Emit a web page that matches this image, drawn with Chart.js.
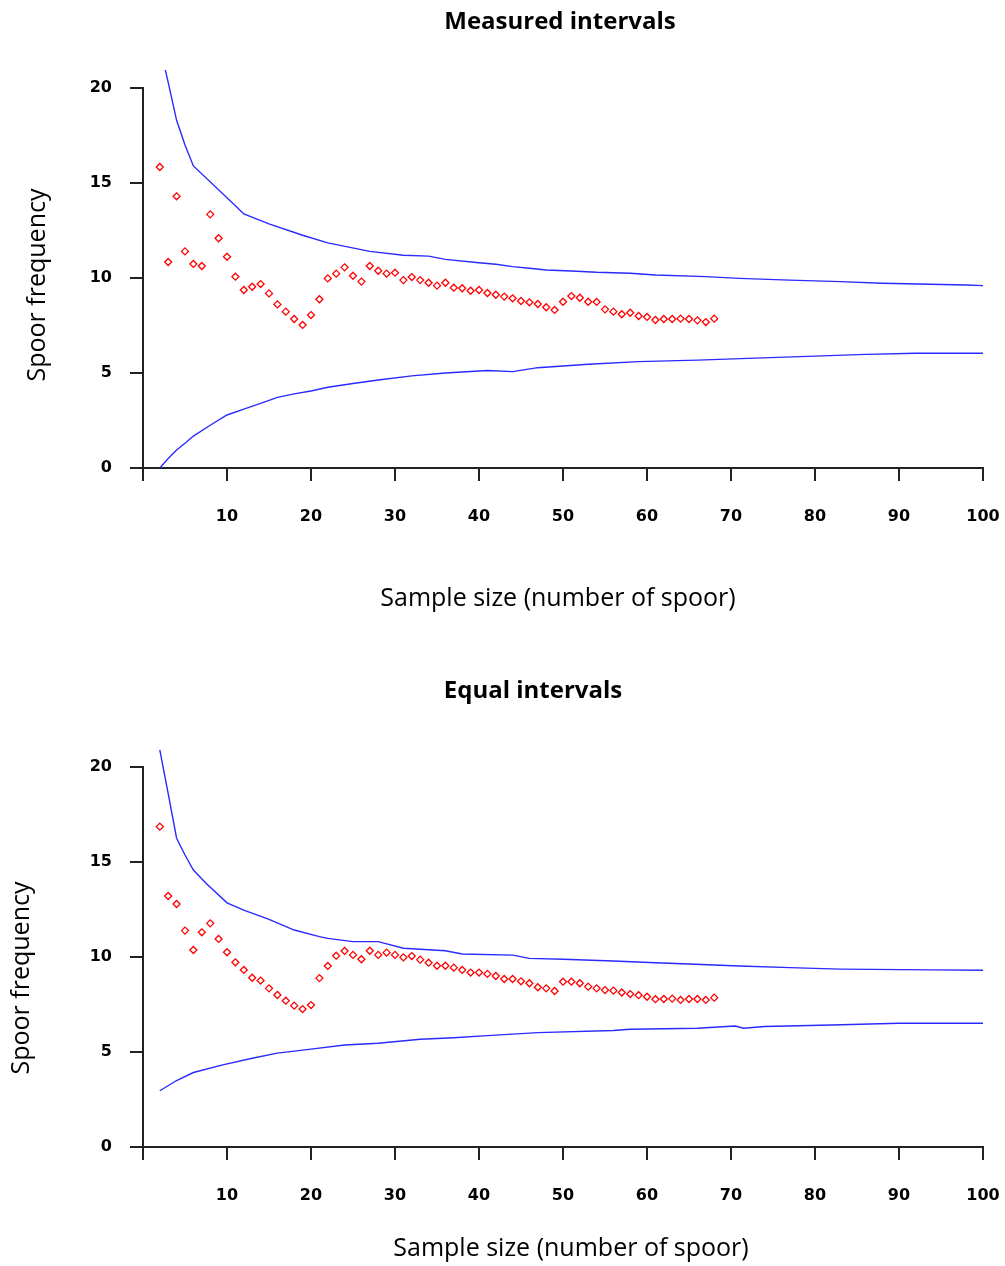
<!DOCTYPE html>
<html>
<head>
<meta charset="utf-8">
<title>Spoor frequency</title>
<script src="https://cdn.jsdelivr.net/npm/chart.js@4.4.1/dist/chart.umd.min.js"></script>
<style>
  body { margin: 0; background: #fff; }
  canvas { position: absolute; left: 0; }
  #measuredChart { top: 0; }
  #equalChart { top: 650px; }
</style>
</head>
<body>
<canvas id="measuredChart" width="1005" height="625"></canvas>
<canvas id="equalChart" width="1005" height="616"></canvas>
<script>
// ----------------- Data -----------------
const sampleSizes = [2, 3, 4, 5, 6, 7, 8, 9, 10, 11, 12, 13, 14, 15, 16, 17, 18, 19, 20, 21,
    22, 23, 24, 25, 26, 27, 28, 29, 30, 31, 32, 33, 34, 35, 36, 37, 38, 39, 40, 41,
    42, 43, 44, 45, 46, 47, 48, 49, 50, 51, 52, 53, 54, 55, 56, 57, 58, 59, 60, 61,
    62, 63, 64, 65, 66, 67, 68];

const measuredFreq = [15.84, 10.84, 14.3, 11.4, 10.74, 10.63, 13.35, 12.09, 11.12, 10.07,
    9.37, 9.54, 9.68, 9.19, 8.61, 8.23, 7.84, 7.53, 8.05, 8.88,
    9.98, 10.23, 10.56, 10.12, 9.81, 10.63, 10.38, 10.23, 10.28, 9.89,
    10.05, 9.89, 9.75, 9.6, 9.75, 9.49, 9.46, 9.33, 9.37, 9.21,
    9.12, 9.02, 8.93, 8.79, 8.72, 8.63, 8.46, 8.32, 8.75, 9.05,
    8.96, 8.75, 8.74, 8.35, 8.23, 8.09, 8.17, 8.0, 7.95, 7.79,
    7.84, 7.84, 7.86, 7.84, 7.77, 7.68, 7.86];

const equalFreq = [16.86, 13.21, 12.79, 11.39, 10.37, 11.3, 11.77, 10.95, 10.25, 9.72,
    9.32, 8.91, 8.76, 8.35, 8.0, 7.7, 7.44, 7.26, 7.47, 8.89,
    9.53, 10.07, 10.32, 10.11, 9.88, 10.33, 10.11, 10.23, 10.11, 9.98,
    10.05, 9.86, 9.7, 9.54, 9.54, 9.44, 9.32, 9.18, 9.18, 9.11,
    9.0, 8.84, 8.84, 8.72, 8.62, 8.41, 8.35, 8.21, 8.7, 8.7,
    8.62, 8.44, 8.35, 8.26, 8.23, 8.13, 8.05, 7.99, 7.91, 7.78,
    7.79, 7.81, 7.74, 7.79, 7.79, 7.74, 7.86];

// confidence envelope, measured intervals
const measUpperX = [2, 3, 4, 5, 6, 11, 12, 15, 19, 22, 27, 31, 34, 36, 40, 42, 44, 46, 48, 51, 54, 58, 61, 67, 71, 77, 83, 88, 98, 100];
const measUpperY = [22.2, 20.3, 18.3, 17.0, 15.9, 13.8, 13.37, 12.85, 12.25, 11.85, 11.4, 11.2, 11.15, 10.98, 10.8, 10.72, 10.6, 10.51, 10.42, 10.37, 10.3, 10.25, 10.16, 10.07, 9.98, 9.89, 9.81, 9.72, 9.63, 9.6];
const measLowerX = [2, 3, 4, 5, 6, 8, 10, 12, 14, 16, 18, 20, 22, 25, 28, 32, 36, 41, 44, 47, 53, 59, 66, 72, 80, 86, 92, 100];
const measLowerY = [0, 0.5, 0.95, 1.3, 1.68, 2.25, 2.79, 3.1, 3.4, 3.72, 3.9, 4.05, 4.25, 4.45, 4.63, 4.85, 5.0, 5.13, 5.07, 5.28, 5.46, 5.6, 5.68, 5.77, 5.89, 5.98, 6.04, 6.04];

// confidence envelope, equal intervals
const equalUpperX = [2, 3, 4, 5, 6, 7.5, 10, 12, 15, 18, 21, 22, 25, 28, 31, 36, 38, 44, 46, 50, 56, 61, 65, 71, 77, 83, 94, 100];
const equalUpperY = [20.9, 18.6, 16.25, 15.37, 14.58, 13.88, 12.85, 12.47, 11.98, 11.42, 11.07, 10.98, 10.81, 10.81, 10.46, 10.33, 10.16, 10.1, 9.93, 9.88, 9.79, 9.7, 9.63, 9.53, 9.44, 9.36, 9.32, 9.3];
const equalLowerX = [2, 4, 6, 9.5, 13, 16, 20, 24, 28, 33, 37, 41, 47, 56, 58, 66, 70.5, 71.5, 74, 82, 90, 100];
const equalLowerY = [2.96, 3.5, 3.92, 4.32, 4.67, 4.94, 5.15, 5.37, 5.46, 5.67, 5.75, 5.86, 6.02, 6.13, 6.2, 6.25, 6.37, 6.25, 6.34, 6.42, 6.51, 6.51];

const yTicks = [0, 5, 10, 15, 20];
const xTicks = [0, 10, 20, 30, 40, 50, 60, 70, 80, 90, 100];

// ----------------- Helpers -----------------
function toPoints(xs, ys) {
    return xs.map((x, i) => ({ x: x, y: ys[i] }));
}

const axisColor = '#222';
const tickFont = { family: 'DejaVu Sans', weight: 'bold', size: 16 };

// titles placed where the original figure has them
const captions = {
    id: 'captions',
    afterDraw(chart, args, o) {
        const ctx = chart.ctx;
        ctx.save();
        ctx.fillStyle = '#000';
        ctx.textAlign = 'center';
        ctx.textBaseline = 'middle';
        ctx.font = 'bold 24px "Open Sans"';
        ctx.fillText(o.title, o.titleX, o.titleY);
        ctx.font = '25px "Open Sans"';
        ctx.fillText('Sample size (number of spoor)', o.xLabelX, o.xLabelY);
        ctx.translate(o.yLabelX, o.yLabelY);
        ctx.rotate(-Math.PI / 2);
        ctx.fillText('Spoor frequency', 0, 0);
        ctx.restore();
    }
};

function makeChart(id, o) {
    const ctx = document.getElementById(id).getContext('2d');
    return new Chart(ctx, {
        type: 'scatter',
        plugins: [captions],
        data: {
            datasets: [{
                data: toPoints(sampleSizes, o.freq),
                pointStyle: 'rectRot',
                pointRadius: 3.5,
                pointBorderWidth: 1.3,
                borderColor: '#ff0000',
                backgroundColor: '#ffffff',
                showLine: false
            }, {
                data: toPoints(o.upperX, o.upperY),
                showLine: true,
                borderColor: '#2a2aff',
                borderWidth: 1.4,
                pointRadius: 0,
                clip: { left: 0, top: 18, right: 0, bottom: 0 }
            }, {
                data: toPoints(o.lowerX, o.lowerY),
                showLine: true,
                borderColor: '#2a2aff',
                borderWidth: 1.4,
                pointRadius: 0
            }]
        },
        options: {
            responsive: false,
            animation: false,
            devicePixelRatio: 1,
            layout: { padding: { left: 0, right: 22, top: o.areaTop, bottom: 0 } },
            plugins: {
                legend: { display: false },
                tooltip: { enabled: false },
                title: { display: false },
                captions: o.captions
            },
            scales: {
                x: {
                    type: 'linear',
                    min: 0,
                    max: 100,
                    afterBuildTicks: s => { s.ticks = xTicks.map(v => ({ value: v })); },
                    afterFit: s => { s.height = o.xHeight; s.paddingRight = 0; },
                    ticks: {
                        color: '#000',
                        font: tickFont,
                        padding: 26,
                        maxRotation: 0,
                        callback: v => (v === 0 ? '' : v)
                    },
                    grid: { drawOnChartArea: false, tickLength: 13, color: axisColor, lineWidth: 2 },
                    border: { color: axisColor, width: 2 }
                },
                y: {
                    min: 0,
                    max: 20,
                    afterBuildTicks: s => { s.ticks = yTicks.map(v => ({ value: v })); },
                    afterFit: s => { s.width = 143; },
                    ticks: { color: '#000', font: tickFont, padding: 18 },
                    grid: { drawOnChartArea: false, tickLength: 13, color: axisColor, lineWidth: 2 },
                    border: { color: axisColor, width: 2 }
                }
            }
        }
    });
}

// ----------------- Charts -----------------
makeChart('measuredChart', {
    freq: measuredFreq,
    upperX: measUpperX, upperY: measUpperY,
    lowerX: measLowerX, lowerY: measLowerY,
    areaTop: 88,
    xHeight: 157,
    captions: { title: 'Measured intervals', titleX: 560, titleY: 22, xLabelX: 558, xLabelY: 599, yLabelX: 38, yLabelY: 285 }
});

makeChart('equalChart', {
    freq: equalFreq,
    upperX: equalUpperX, upperY: equalUpperY,
    lowerX: equalLowerX, lowerY: equalLowerY,
    areaTop: 117,
    xHeight: 119,
    captions: { title: 'Equal intervals', titleX: 533, titleY: 41, xLabelX: 571, xLabelY: 599, yLabelX: 22, yLabelY: 328 }
});
</script>
</body>
</html>
